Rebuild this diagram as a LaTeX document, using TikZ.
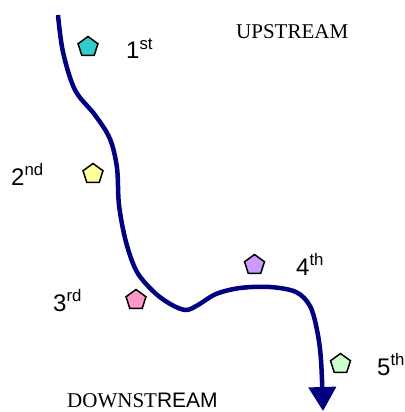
\documentclass[tikz,border=0pt]{standalone}
\usepackage{fontspec}
\setmainfont{Liberation Serif}
\newfontfamily\labelfont{Liberation Sans}
\usetikzlibrary{shapes.geometric,arrows.meta}
\definecolor{river}{RGB}{0,0,128}
\definecolor{sitecyan}{RGB}{51,204,204}
\definecolor{siteyellow}{RGB}{255,255,153}
\definecolor{sitepink}{RGB}{255,153,204}
\definecolor{sitelilac}{RGB}{204,153,255}
\definecolor{sitegreen}{RGB}{204,255,204}
\tikzset{
  site/.style={regular polygon, regular polygon sides=5, draw=black,
    line width=1.5pt, minimum size=21pt, inner sep=0pt},
  rank/.style={anchor=base west, inner sep=0pt,
    font=\labelfont\fontsize{24}{24}\selectfont},
  reach/.style={anchor=base west, inner sep=0pt,
    font=\fontsize{21}{21}\selectfont},
  flow/.style={draw=river, line width=4.5pt, line join=round,
    -{Triangle[width=27pt,length=24pt]}}
}
\begin{document}
\begin{tikzpicture}[x=1pt,y=-1pt]
\useasboundingbox[fill=white] (0,0) rectangle (404,412);

% the river, flowing from top to bottom
\draw[flow] plot[smooth, tension=0.55] coordinates {
  (58,15) (63,52) (75,90) (95,115) (110,139) (117,168) (119,205)
  (126,242) (137,272) (155,293) (172,305) (186,310) (198,305) (216,294)
  (240,288) (270,287) (296,292) (310,306) (317,330) (321,360) (323,411)};

% sampling sites
\node[site, fill=sitecyan]   (s1) at (88,47)    {};
\node[site, fill=siteyellow] (s2) at (93,174)   {};
\node[site, fill=sitepink]   (s3) at (136,300)  {};
\node[site, fill=sitelilac]  (s4) at (254.5,265){};
\node[site, fill=sitegreen]  (s5) at (340.5,364){};

% site ranks
\node[rank] (r1) at (126,59)  {1\textsuperscript{st}};
\node[rank] (r2) at (11,185)  {2\textsuperscript{nd}};
\node[rank] (r3) at (53,311)  {3\textsuperscript{rd}};
\node[rank] (r4) at (296,275) {4\textsuperscript{th}};
\node[rank] (r5) at (377,375) {5\textsuperscript{th}};

% reach labels
\node[reach] (up)   at (236,38)  {UPSTREAM};
\node[reach] (down) at (67,407)  {DOWNST{\labelfont REAM}};
\end{tikzpicture}
\end{document}
